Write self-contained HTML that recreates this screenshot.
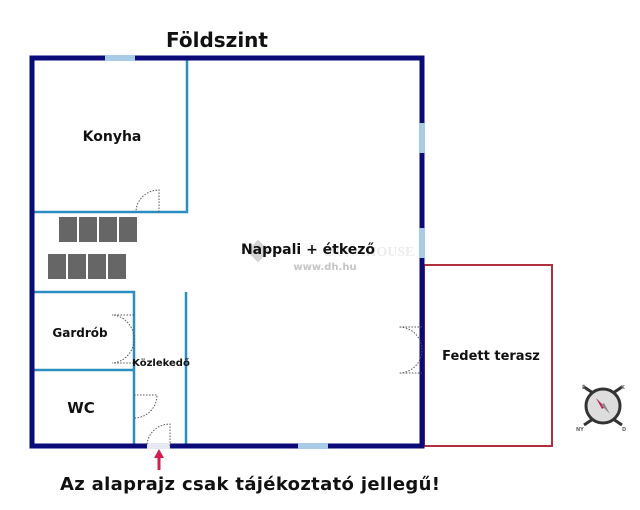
<!DOCTYPE html>
<html><head><meta charset="utf-8"><style>
html,body{margin:0;padding:0;background:#fff;width:640px;height:510px;overflow:hidden}
svg text{font-family:"DejaVu Sans",sans-serif;font-weight:bold;fill:#111}
</style></head><body>
<svg width="640" height="510" viewBox="0 0 640 510" xmlns="http://www.w3.org/2000/svg">
<text x="217" y="47" font-size="20" text-anchor="middle">Földszint</text>
<rect x="424" y="265" width="128" height="181" fill="none" stroke="#b03040" stroke-width="2"/>
<g stroke="#2a8fc0" stroke-width="2.5" fill="none">
<path d="M187 58V212H32"/>
<path d="M32 292H134V446"/>
<path d="M32 370H134"/>
<path d="M186 292V446"/>
</g>
<rect x="32" y="58" width="390" height="388" fill="none" stroke="#0a0a78" stroke-width="5"/>
<g fill="#a8cce6">
<rect x="105" y="55" width="30" height="6"/>
<rect x="419" y="123" width="6" height="30"/>
<rect x="419" y="228" width="6" height="30"/>
<rect x="298" y="443" width="30" height="6"/>
<rect x="147" y="443" width="23" height="6" fill="#e8e8f0"/>
</g>
<g fill="none" stroke="#555" stroke-width="1" stroke-dasharray="1.5,1.5">
<path d="M159 212V190A23 22 0 0 0 136 212"/>
<path d="M134 315H112A23 24 0 0 1 134 339A23 24 0 0 1 112 363H134"/>
<path d="M134 395H157A23 23 0 0 1 134 418"/>
<path d="M170 446V424A23 22 0 0 0 147 446"/>
<path d="M422 327H399A23 23 0 0 1 422 350A23 23 0 0 1 399 373H422"/>
</g>
<g fill="#666">
<rect x="59" y="217" width="18" height="25"/><rect x="79" y="217" width="18" height="25"/><rect x="99" y="217" width="18" height="25"/><rect x="119" y="217" width="18" height="25"/>
<rect x="48" y="254" width="18" height="25"/><rect x="68" y="254" width="18" height="25"/><rect x="88" y="254" width="18" height="25"/><rect x="108" y="254" width="18" height="25"/>
</g>
<rect x="250" y="243" width="16" height="16" fill="#d4d4d4" transform="rotate(45 258 251)"/>
<text x="325" y="256" font-size="14" font-weight="normal" style="fill:#ececec;font-family:'Liberation Serif',serif">DUNAHOUSE</text>
<text x="325" y="270" font-size="10" text-anchor="middle" style="fill:#c4c4c4">www.dh.hu</text>
<text x="112" y="141" font-size="14" text-anchor="middle">Konyha</text>
<text x="308" y="254" font-size="14" text-anchor="middle">Nappali + étkező</text>
<text x="80" y="337" font-size="12" text-anchor="middle">Gardrób</text>
<text x="161" y="366" font-size="10" text-anchor="middle">Közlekedő</text>
<text x="81" y="413" font-size="15" text-anchor="middle">WC</text>
<text x="491" y="360" font-size="13" text-anchor="middle">Fedett terasz</text>
<path d="M159 449L154 458H157.5V470H160.5V458H164Z" fill="#d02050"/>
<text x="250" y="490" font-size="18" text-anchor="middle" textLength="380">Az alaprajz csak tájékoztató jellegű!</text>
<g transform="translate(603,406)">
<path d="M-19 -19L-10 -13M19 -19L10 -13M-19 19L-10 13M19 19L10 13" stroke="#333" stroke-width="3"/>
<circle r="17" fill="#ddd" stroke="#333" stroke-width="3"/>
<path d="M-7 -8L2 1L-1 3Z" fill="#c02050"/>
<path d="M7 8L-2 -1L1 -3Z" fill="#888"/>
<text x="-21" y="-17" font-size="5" style="fill:#666">É</text>
<text x="18" y="-17" font-size="5" style="fill:#666">K</text>
<text x="-27" y="25" font-size="5" style="fill:#666">NY</text>
<text x="19" y="25" font-size="5" style="fill:#666">D</text>
</g>
</svg>
</body></html>
